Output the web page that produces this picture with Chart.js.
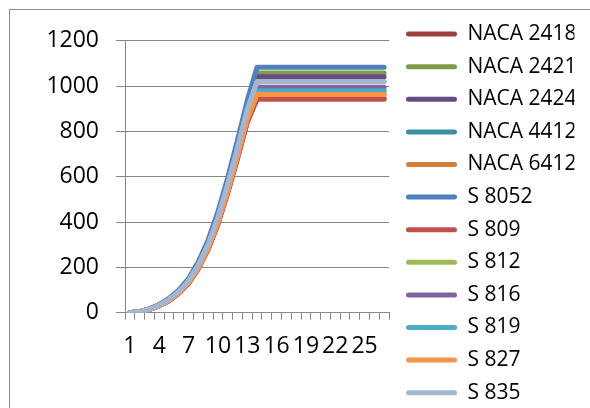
<!DOCTYPE html>
<html>
<head>
<meta charset="utf-8">
<script src="https://cdn.jsdelivr.net/npm/chart.js@4.4.1/dist/chart.umd.min.js"></script>
<style>
  html, body { margin: 0; padding: 0; background: #fff; overflow: hidden; }
  #frame { position: absolute; left: 9px; top: 9px; width: 700px; height: 500px; border-left: 1px solid #8c8c8c; border-top: 1px solid #8c8c8c; }
  #wrap { position: absolute; left: 0; top: 0; width: 590px; height: 430px; }
</style>
</head>
<body>
<div id="frame"></div>
<div id="wrap"><canvas id="myChart"></canvas></div>
<script>
"use strict";
// categories on the x axis (1..27)
const categories = ["1", "2", "3", "4", "5", "6", "7", "8", "9", "10", "11", "12", "13", "14",
  "15", "16", "17", "18", "19", "20", "21", "22", "23", "24", "25", "26", "27"];
// y axis tick values
const yTicks = [0, 200, 400, 600, 800, 1000, 1200];

// series names, in legend order
const names = ["NACA 2418", "NACA 2421", "NACA 2424", "NACA 4412", "NACA 6412", "S 8052",
  "S 809", "S 812", "S 816", "S 819", "S 827", "S 835"];
const colors = ["#9c403d", "#7e9c46", "#644c85", "#3a8fa4", "#d2803a", "#4f81bd",
  "#c0504d", "#9bbb59", "#8064a2", "#4bacc6", "#f79646", "#a5b6d4"];

// values
const naca2418 = [0, 4, 14, 30, 53, 86, 129, 194, 280, 392, 529, 681, 841, 945, 945, 945, 945, 945, 945, 945, 945, 945, 945, 945, 945, 945, 945];
const naca2421 = [0, 5, 16, 35, 61, 98, 147, 220, 313, 437, 585, 748, 922, 1058, 1058, 1058, 1058, 1058, 1058, 1058, 1058, 1058, 1058, 1058, 1058, 1058, 1058];
const naca2424 = [0, 5, 16, 35, 60, 96, 145, 217, 309, 432, 578, 740, 912, 1041, 1041, 1041, 1041, 1041, 1041, 1041, 1041, 1041, 1041, 1041, 1041, 1041, 1041];
const naca4412 = [0, 5, 15, 32, 56, 91, 136, 204, 292, 409, 550, 707, 872, 980, 980, 980, 980, 980, 980, 980, 980, 980, 980, 980, 980, 980, 980];
const naca6412 = [0, 4, 14, 31, 54, 88, 132, 198, 285, 399, 537, 691, 853, 965, 965, 965, 965, 965, 965, 965, 965, 965, 965, 965, 965, 965, 965];
const s8052 = [0, 6, 17, 36, 63, 100, 150, 225, 320, 445, 595, 760, 935, 1083, 1083, 1083, 1083, 1083, 1083, 1083, 1083, 1083, 1083, 1083, 1083, 1083, 1083];
const s809 = [0, 4, 14, 30, 53, 86, 129, 194, 279, 391, 528, 680, 840, 942, 942, 942, 942, 942, 942, 942, 942, 942, 942, 942, 942, 942, 942];
const s812 = [0, 5, 15, 33, 58, 93, 140, 210, 300, 420, 565, 725, 895, 1020, 1020, 1020, 1020, 1020, 1020, 1020, 1020, 1020, 1020, 1020, 1020, 1020, 1020];
const s816 = [0, 5, 15, 33, 57, 92, 138, 207, 296, 414, 557, 715, 882, 995, 995, 995, 995, 995, 995, 995, 995, 995, 995, 995, 995, 995, 995];
const s819 = [0, 5, 15, 32, 56, 91, 136, 204, 292, 409, 550, 707, 872, 978, 978, 978, 978, 978, 978, 978, 978, 978, 978, 978, 978, 978, 978];
const s827 = [0, 4, 14, 31, 54, 88, 132, 198, 284, 398, 536, 690, 852, 963, 963, 963, 963, 963, 963, 963, 963, 963, 963, 963, 963, 963, 963];
const s835 = [0, 5, 15, 33, 58, 93, 140, 210, 300, 420, 565, 725, 895, 1019, 1019, 1019, 1019, 1019, 1019, 1019, 1019, 1019, 1019, 1019, 1019, 1019, 1019];

const seriesValues = [naca2418, naca2421, naca2424, naca4412, naca6412, s8052,
  s809, s812, s816, s819, s827, s835];

Chart.defaults.font.family = "'Open Sans', 'DejaVu Sans', sans-serif";
Chart.defaults.font.size = 21;
Chart.defaults.color = "#000";

const gridGray = "#878787";
const tickFont = { size: 23 };

// later series sit on top, like in the spreadsheet
const datasets = names.map(function (name, i) {
  return {
    label: name,
    data: seriesValues[i],
    borderColor: colors[i],
    backgroundColor: colors[i],
    borderWidth: 5,
    borderCapStyle: "round",
    borderJoinStyle: "round",
    pointRadius: 0,
    tension: 0,
    order: names.length - 1 - i,
    xAxisID: "x",
    yAxisID: "y"
  };
});

new Chart(document.querySelector("#myChart"), {
  type: "line",
  data: { labels: categories, datasets: datasets },
  options: {
    responsive: true,
    maintainAspectRatio: false,
    animation: false,
    layout: { padding: { left: 0, top: 12, right: 15.6, bottom: 0 } },
    scales: {
      x: {
        type: "category",
        position: "bottom",
        offset: true,
        grid: { offset: true, drawOnChartArea: false, color: gridGray, tickLength: 7 },
        border: { color: gridGray },
        ticks: {
          font: tickFont,
          autoSkip: false,
          maxRotation: 0,
          minRotation: 0,
          padding: 13,
          callback: function (value, index) {
            return index % 3 === 0 ? this.getLabelForValue(value) : "";
          }
        },
        afterFit: function (scale) { scale.height = 117.3; }
      },
      xTop: {
        type: "category",
        position: "top",
        grid: { display: false },
        border: { display: false },
        ticks: { display: false },
        afterFit: function (scale) { scale.height = 28.7; }
      },
      y: {
        type: "linear",
        position: "left",
        min: yTicks[0],
        max: yTicks[yTicks.length - 1],
        grid: { color: gridGray, tickLength: 9 },
        border: { color: gridGray },
        ticks: {
          font: tickFont,
          stepSize: yTicks[1] - yTicks[0],
          padding: 17,
          callback: function (value) { return String(value); }
        },
        afterFit: function (scale) { scale.width = 125; }
      },
      yRight: {
        type: "linear",
        position: "right",
        grid: { display: false },
        border: { display: false },
        ticks: { display: false },
        afterFit: function (scale) { scale.width = 5.4; }
      }
    },
    plugins: {
      tooltip: { enabled: false },
      legend: {
        position: "right",
        align: "start",
        maxWidth: 180,
        labels: {
          boxWidth: 51,
          boxHeight: 5,
          padding: 11.6,
          useBorderRadius: true,
          borderRadius: 2.5,
          sort: function (a, b) { return a.datasetIndex - b.datasetIndex; },
          generateLabels: function (chart) {
            const items = Chart.defaults.plugins.legend.labels.generateLabels(chart);
            return items.map(function (item) {
              item.fillStyle = colors[item.datasetIndex];
              item.lineWidth = 0;
              return item;
            });
          }
        }
      }
    }
  }
});
</script>
</body>
</html>
